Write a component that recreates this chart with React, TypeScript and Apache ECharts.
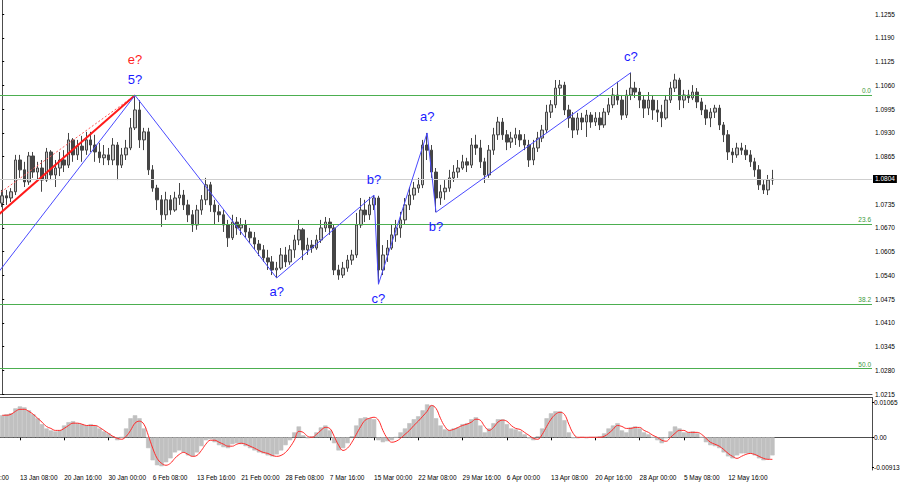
import React, { useEffect, useRef } from "react";
import * as echarts from "echarts";

// ---------- data ----------
const totalSlots = 197;
const xTickLabels = [
  "13 Jan 08:00", "20 Jan 16:00", "30 Jan 00:00", "6 Feb 08:00", "13 Feb 16:00",
  "21 Feb 00:00", "28 Feb 08:00", "7 Mar 16:00", "15 Mar 00:00", "22 Mar 08:00",
  "29 Mar 16:00", "6 Apr 00:00", "13 Apr 08:00", "20 Apr 16:00", "28 Apr 00:00",
  "5 May 08:00", "12 May 16:00",
];
const xTickIndex = [4, 14, 24, 34, 44, 54, 64, 74, 84, 94, 104, 114, 124, 134, 144, 154, 164];
const cutTickLabel = "6 Jan 00:00";

const priceTicks = [
  1.0215, 1.028, 1.0345, 1.041, 1.0475, 1.054, 1.0605, 1.067, 1.0735,
  1.0865, 1.093, 1.0995, 1.106, 1.1125, 1.119, 1.1255,
];
const macdTicks = [-0.00913, 0, 0.01065];
const fibLevels = ["0.0", "23.6", "38.2", "50.0"];
const fibPrices = [1.1033, 1.068, 1.0461, 1.0285];
const currentPrice = 1.0804;

// [open, close, low, high]
const ohlc: number[][] = [
  [1.0738,1.0758,1.0727,1.0774],[1.0758,1.0752,1.0733,1.0774],[1.0752,1.0769,1.0741,1.0779],
  [1.0769,1.0856,1.0760,1.0870],[1.0856,1.0829,1.0807,1.0870],[1.0829,1.0796,1.0782,1.0851],
  [1.0796,1.0867,1.0788,1.0878],[1.0867,1.0823,1.0807,1.0878],[1.0823,1.0834,1.0801,1.0851],
  [1.0834,1.0801,1.0769,1.0856],[1.0801,1.0878,1.0796,1.0889],[1.0878,1.0815,1.0801,1.0883],
  [1.0815,1.0834,1.0782,1.0856],[1.0834,1.0856,1.0812,1.0878],[1.0856,1.0842,1.0823,1.0883],
  [1.0842,1.0911,1.0834,1.0930],[1.0911,1.0870,1.0851,1.0916],[1.0870,1.0894,1.0856,1.0911],
  [1.0894,1.0883,1.0851,1.0922],[1.0883,1.0911,1.0870,1.0933],[1.0911,1.0897,1.0878,1.0933],
  [1.0897,1.0878,1.0851,1.0925],[1.0878,1.0862,1.0848,1.0903],[1.0862,1.0870,1.0842,1.0897],
  [1.0870,1.0856,1.0842,1.0889],[1.0856,1.0897,1.0842,1.0916],[1.0897,1.0842,1.0801,1.0905],
  [1.0842,1.0870,1.0834,1.0889],[1.0870,1.0889,1.0856,1.0911],[1.0889,1.0944,1.0883,1.0971],
  [1.0944,1.0993,1.0938,1.1033],[1.0993,1.0911,1.0889,1.1020],[1.0911,1.0933,1.0883,1.0944],
  [1.0933,1.0829,1.0815,1.0944],[1.0829,1.0779,1.0769,1.0842],[1.0779,1.0747,1.0719,1.0788],
  [1.0747,1.0706,1.0673,1.0760],[1.0706,1.0747,1.0692,1.0769],[1.0747,1.0719,1.0706,1.0760],
  [1.0719,1.0752,1.0714,1.0769],[1.0752,1.0760,1.0733,1.0793],[1.0760,1.0733,1.0719,1.0774],
  [1.0733,1.0706,1.0686,1.0747],[1.0706,1.0678,1.0659,1.0719],[1.0678,1.0719,1.0665,1.0733],
  [1.0719,1.0747,1.0706,1.0760],[1.0747,1.0788,1.0733,1.0807],[1.0788,1.0733,1.0714,1.0796],
  [1.0733,1.0714,1.0678,1.0747],[1.0714,1.0706,1.0686,1.0733],[1.0706,1.0678,1.0659,1.0719],
  [1.0678,1.0643,1.0618,1.0692],[1.0643,1.0686,1.0637,1.0706],[1.0686,1.0670,1.0651,1.0700],
  [1.0670,1.0678,1.0651,1.0697],[1.0678,1.0659,1.0643,1.0692],[1.0659,1.0643,1.0629,1.0670],
  [1.0643,1.0626,1.0610,1.0659],[1.0626,1.0610,1.0593,1.0637],[1.0610,1.0588,1.0577,1.0623],
  [1.0588,1.0577,1.0555,1.0610],[1.0577,1.0555,1.0541,1.0593],[1.0555,1.0560,1.0533,1.0577],
  [1.0560,1.0596,1.0555,1.0615],[1.0596,1.0577,1.0563,1.0618],[1.0577,1.0610,1.0569,1.0623],
  [1.0610,1.0637,1.0588,1.0651],[1.0637,1.0665,1.0623,1.0692],[1.0665,1.0610,1.0582,1.0670],
  [1.0610,1.0623,1.0596,1.0643],[1.0623,1.0615,1.0602,1.0637],[1.0615,1.0637,1.0610,1.0651],
  [1.0637,1.0670,1.0629,1.0692],[1.0670,1.0686,1.0659,1.0700],[1.0686,1.0670,1.0651,1.0697],
  [1.0670,1.0555,1.0541,1.0678],[1.0555,1.0541,1.0528,1.0569],[1.0541,1.0560,1.0533,1.0577],
  [1.0560,1.0582,1.0550,1.0596],[1.0582,1.0596,1.0569,1.0610],[1.0596,1.0678,1.0588,1.0711],
  [1.0678,1.0719,1.0670,1.0752],[1.0719,1.0706,1.0686,1.0747],[1.0706,1.0733,1.0692,1.0755],
  [1.0733,1.0752,1.0719,1.0760],[1.0752,1.0555,1.0516,1.0758],[1.0555,1.0596,1.0541,1.0623],
  [1.0596,1.0615,1.0577,1.0637],[1.0615,1.0651,1.0610,1.0678],[1.0651,1.0670,1.0632,1.0692],
  [1.0670,1.0692,1.0643,1.0714],[1.0692,1.0733,1.0678,1.0752],[1.0733,1.0760,1.0719,1.0782],
  [1.0760,1.0779,1.0747,1.0796],[1.0779,1.0788,1.0766,1.0807],[1.0788,1.0897,1.0779,1.0911],
  [1.0897,1.0883,1.0856,1.0930],[1.0883,1.0823,1.0807,1.0897],[1.0823,1.0752,1.0713,1.0834],
  [1.0752,1.0769,1.0733,1.0788],[1.0769,1.0779,1.0747,1.0801],[1.0779,1.0807,1.0769,1.0829],
  [1.0807,1.0823,1.0796,1.0842],[1.0823,1.0834,1.0807,1.0856],[1.0834,1.0851,1.0829,1.0870],
  [1.0851,1.0842,1.0823,1.0862],[1.0842,1.0897,1.0834,1.0916],[1.0897,1.0889,1.0870,1.0925],
  [1.0889,1.0851,1.0834,1.0911],[1.0851,1.0815,1.0793,1.0862],[1.0815,1.0883,1.0807,1.0897],
  [1.0883,1.0925,1.0870,1.0944],[1.0925,1.0960,1.0911,1.0974],[1.0960,1.0925,1.0911,1.0971],
  [1.0925,1.0905,1.0883,1.0938],[1.0905,1.0916,1.0889,1.0933],[1.0916,1.0925,1.0897,1.0944],
  [1.0925,1.0911,1.0892,1.0938],[1.0911,1.0897,1.0883,1.0927],[1.0897,1.0856,1.0837,1.0911],
  [1.0856,1.0889,1.0842,1.0911],[1.0889,1.0916,1.0878,1.0933],[1.0916,1.0938,1.0905,1.0952],
  [1.0938,1.0987,1.0930,1.1007],[1.0987,1.1007,1.0971,1.1020],[1.1007,1.1053,1.0998,1.1075],
  [1.1053,1.1061,1.1034,1.1075],[1.1061,1.0993,1.0979,1.1070],[1.0993,1.0971,1.0944,1.1007],
  [1.0971,1.0938,1.0916,1.0987],[1.0938,1.0971,1.0925,1.0985],[1.0971,1.0960,1.0938,1.0985],
  [1.0960,1.0979,1.0919,1.0993],[1.0979,1.0960,1.0944,1.0987],[1.0960,1.0971,1.0949,1.0987],
  [1.0971,1.0952,1.0938,1.0987],[1.0952,1.0987,1.0944,1.0998],[1.0987,1.1007,1.0979,1.1026],
  [1.1007,1.1034,1.0998,1.1053],[1.1034,1.1020,1.1007,1.1070],[1.1020,1.0979,1.0966,1.1034],
  [1.0979,1.1034,1.0971,1.1048],[1.1034,1.1053,1.1020,1.1095],[1.1053,1.1042,1.1026,1.1070],
  [1.1042,1.1020,1.0998,1.1053],[1.1020,1.0998,1.0971,1.1034],[1.0998,1.1020,1.0979,1.1042],
  [1.1020,1.0993,1.0966,1.1034],[1.0993,1.0987,1.0960,1.1020],[1.0987,1.0971,1.0946,1.1007],
  [1.0971,1.1020,1.0966,1.1034],[1.1020,1.1053,1.1012,1.1070],[1.1053,1.1075,1.1042,1.1092],
  [1.1075,1.1020,1.0993,1.1081],[1.1020,1.1034,1.0998,1.1048],[1.1034,1.1026,1.1012,1.1048],
  [1.1026,1.1042,1.1020,1.1061],[1.1042,1.1015,1.0998,1.1053],[1.1015,1.0993,1.0979,1.1026],
  [1.0993,1.0971,1.0952,1.1007],[1.0971,1.0987,1.0946,1.0998],[1.0987,1.0998,1.0971,1.1007],
  [1.0998,1.0952,1.0938,1.1007],[1.0952,1.0925,1.0905,1.0960],[1.0925,1.0878,1.0856,1.0938],
  [1.0878,1.0870,1.0848,1.0889],[1.0870,1.0889,1.0862,1.0903],[1.0889,1.0883,1.0870,1.0903],
  [1.0883,1.0870,1.0856,1.0897],[1.0870,1.0851,1.0837,1.0883],[1.0851,1.0829,1.0810,1.0862],
  [1.0829,1.0788,1.0774,1.0842],[1.0788,1.0774,1.0763,1.0801],[1.0774,1.0801,1.0760,1.0815],
  [1.0801,1.0804,1.0788,1.0829],
];

const macdHist = [
  0.0067,0.0070,0.0073,0.0088,0.0094,0.0091,0.0082,0.0070,0.0058,0.0040,
  0.0027,0.0021,0.0018,0.0021,0.0036,0.0046,0.0049,0.0043,0.0040,0.0036,
  0.0040,0.0036,0.0027,0.0018,0.0012,0.0003,-0.0009,0.0000,0.0027,0.0058,
  0.0067,0.0058,0.0027,-0.0033,-0.0070,-0.0085,-0.0088,-0.0076,-0.0064,-0.0046,
  -0.0040,-0.0046,-0.0055,-0.0058,-0.0046,-0.0027,-0.0009,-0.0006,-0.0015,-0.0024,
  -0.0030,-0.0033,-0.0021,-0.0018,-0.0021,-0.0027,-0.0033,-0.0040,-0.0046,-0.0049,
  -0.0055,-0.0058,-0.0052,-0.0040,-0.0024,-0.0009,0.0015,0.0033,0.0006,-0.0003,
  0.0003,0.0015,0.0030,0.0036,0.0021,-0.0018,-0.0040,-0.0033,-0.0018,0.0003,
  0.0036,0.0058,0.0061,0.0058,0.0055,-0.0009,-0.0015,-0.0012,-0.0009,0.0000,
  0.0015,0.0027,0.0043,0.0055,0.0064,0.0082,0.0100,0.0097,0.0058,0.0036,
  0.0024,0.0021,0.0027,0.0030,0.0040,0.0043,0.0055,0.0061,0.0036,0.0015,
  0.0027,0.0043,0.0055,0.0055,0.0040,0.0027,0.0024,0.0018,0.0009,-0.0003,
  -0.0009,0.0003,0.0027,0.0058,0.0073,0.0079,0.0079,0.0052,0.0015,-0.0003,
  -0.0003,0.0000,-0.0003,0.0000,0.0000,0.0003,0.0012,0.0027,0.0036,0.0043,
  0.0021,0.0015,0.0030,0.0033,0.0027,0.0015,0.0009,0.0000,-0.0009,-0.0018,
  -0.0003,0.0018,0.0033,0.0027,0.0015,0.0015,0.0018,0.0012,0.0000,-0.0015,
  -0.0024,-0.0027,-0.0033,-0.0046,-0.0058,-0.0064,-0.0055,-0.0049,-0.0049,-0.0049,
  -0.0055,-0.0064,-0.0070,-0.0067,-0.0055,
];

const macdSignal = [
  0.0067,0.0067,0.0070,0.0079,0.0085,0.0085,0.0079,0.0070,0.0058,0.0046,
  0.0033,0.0027,0.0021,0.0021,0.0027,0.0036,0.0043,0.0043,0.0040,0.0036,
  0.0036,0.0036,0.0030,0.0021,0.0012,0.0003,-0.0003,-0.0006,0.0003,0.0021,
  0.0043,0.0049,0.0040,0.0006,-0.0033,-0.0064,-0.0079,-0.0085,-0.0079,-0.0064,
  -0.0052,-0.0046,-0.0052,-0.0058,-0.0055,-0.0040,-0.0021,-0.0009,-0.0009,-0.0015,
  -0.0021,-0.0027,-0.0027,-0.0021,-0.0018,-0.0021,-0.0027,-0.0033,-0.0040,-0.0046,
  -0.0049,-0.0055,-0.0058,-0.0055,-0.0046,-0.0030,-0.0009,0.0018,0.0015,0.0003,
  0.0000,0.0009,0.0021,0.0030,0.0027,0.0003,-0.0024,-0.0040,-0.0033,-0.0015,
  0.0009,0.0033,0.0052,0.0058,0.0061,0.0052,0.0021,-0.0003,-0.0015,-0.0012,
  -0.0003,0.0009,0.0021,0.0036,0.0049,0.0064,0.0079,0.0097,0.0088,0.0058,
  0.0033,0.0021,0.0024,0.0030,0.0036,0.0040,0.0046,0.0055,0.0052,0.0033,
  0.0021,0.0030,0.0046,0.0052,0.0049,0.0036,0.0027,0.0024,0.0015,0.0006,
  -0.0003,-0.0006,0.0009,0.0033,0.0055,0.0070,0.0076,0.0070,0.0040,0.0012,
  0.0000,0.0000,0.0000,0.0000,0.0000,0.0000,0.0003,0.0012,0.0024,0.0036,
  0.0033,0.0027,0.0027,0.0030,0.0030,0.0021,0.0015,0.0006,0.0000,-0.0009,
  -0.0012,0.0000,0.0012,0.0021,0.0021,0.0015,0.0015,0.0015,0.0009,-0.0003,
  -0.0015,-0.0021,-0.0027,-0.0037,-0.0049,-0.0058,-0.0064,-0.0058,-0.0052,-0.0049,
  -0.0052,-0.0058,-0.0064,-0.0067,-0.0067,
];

// wave count polyline (bar index, price) and its labels
const waveIndex = [-4.65, 30, 62, 84, 85, 96, 98, 142];
const wavePrice = [1.0489, 1.1033, 1.0533, 1.076, 1.0516, 1.093, 1.0713, 1.1095];
const waveLabels = ["", "5?", "a?", "b?", "c?", "a?", "b?", "c?"];
const upperWaveLabel = "e?";
const redTrendIndex = [-4.65, 30];
const redTrendPrice = [1.0666, 1.1033];
const redDashPrice = [1.073, 1.1033];

// ---------- styles ----------
const FONT = "'Liberation Sans', Arial, sans-serif";
const AXIS_FS = 6.5;
const AXIS_COLOR = "#4d4d4d";
const GREEN = "#4caf50";
const BLUE = "#1a1aff";
const RED = "#ff2a2a";

function buildOption() {
  const categories: string[] = [];
  for (let i = 0; i < totalSlots; i++) {
    const k = xTickIndex.indexOf(i);
    categories.push(k >= 0 ? xTickLabels[k] : "");
  }
  const showLabel = (_: number, v: string) => v !== "";

  const wavePts = waveIndex.map((x, i) => [x, wavePrice[i]]);
  const labelPts: any[] = [];
  waveLabels.forEach((t, i) => {
    if (!t) return;
    const prev = wavePrice[i - 1];
    const isPeak = wavePrice[i] > prev;
    labelPts.push({
      value: [waveIndex[i], wavePrice[i]],
      label: {
        show: true,
        formatter: t,
        position: isPeak ? "top" : "bottom",
        distance: isPeak ? 9 : 7,
        color: BLUE,
      },
    });
  });
  const topIdx = wavePrice.indexOf(Math.max(...wavePrice.slice(0, 3)));
  labelPts.push({
    value: [waveIndex[topIdx], wavePrice[topIdx]],
    label: { show: true, formatter: upperWaveLabel, position: "top", distance: 29, color: "#ff1f1f" },
  });

  const fibMarks = fibLevels.map((lv, i) => ({
    yAxis: fibPrices[i],
    lineStyle: { color: GREEN, width: 1, type: "solid" },
    label: {
      show: true,
      formatter: lv,
      position: "insideEndTop",
      color: "#3c9a3c",
      fontSize: AXIS_FS,
      fontFamily: FONT,
      distance: [1, 1],
    },
  }));

  return {
    animation: false,
    backgroundColor: "#ffffff",
    textStyle: { fontFamily: FONT },
    grid: [
      { left: 0, right: 28, top: 0, height: 394.5, outerBoundsMode: "none" },
      { left: 0, right: 28, top: 397.5, height: 72.5, outerBoundsMode: "none" },
    ],
    xAxis: [
      {
        type: "category", gridIndex: 0, data: categories, boundaryGap: true,
        axisLine: { show: true, lineStyle: { color: AXIS_COLOR, width: 1 } },
        axisTick: { show: false }, axisLabel: { show: false }, splitLine: { show: false },
      },
      { type: "value", gridIndex: 0, min: -0.5, max: totalSlots - 0.5, show: false },
      {
        type: "category", gridIndex: 1, data: categories, boundaryGap: true,
        axisLine: { show: true, lineStyle: { color: AXIS_COLOR, width: 1 } },
        axisTick: { show: true, interval: showLabel, alignWithLabel: true, length: 3, lineStyle: { color: "#000" } },
        axisLabel: {
          show: true, interval: showLabel, align: "left", fontSize: AXIS_FS, color: "#000",
          margin: 4, fontFamily: FONT,
        },
        splitLine: { show: false },
      },
      {
        type: "category", gridIndex: 1, position: "top", data: categories,
        axisLine: { show: true, lineStyle: { color: AXIS_COLOR, width: 1 } },
        axisTick: { show: false }, axisLabel: { show: false },
      },
    ],
    yAxis: [
      {
        type: "value", gridIndex: 0, position: "right", min: 1.0214, max: 1.1294, scale: true,
        axisLine: { show: true, lineStyle: { color: AXIS_COLOR, width: 1 } },
        axisTick: { show: true, length: 2, customValues: priceTicks, lineStyle: { color: "#000" } },
        axisLabel: {
          show: true, customValues: priceTicks, fontSize: AXIS_FS, color: "#000", margin: 3,
          fontFamily: FONT, formatter: (v: number) => v.toFixed(4),
        },
        splitLine: { show: false },
      },
      {
        type: "value", gridIndex: 1, position: "right", min: -0.00994, max: 0.0121,
        axisLine: { show: true, lineStyle: { color: AXIS_COLOR, width: 1 } },
        axisTick: { show: true, length: 2, customValues: macdTicks, lineStyle: { color: "#000" } },
        axisLabel: {
          show: true, customValues: macdTicks, fontSize: AXIS_FS, color: "#000", margin: 2,
          fontFamily: FONT, formatter: (v: number) => (v === 0 ? "0.00" : v.toFixed(5)),
        },
        splitLine: { show: false },
      },
    ],
    series: [
      {
        type: "candlestick", xAxisIndex: 0, yAxisIndex: 0, data: ohlc, barWidth: 3,
        itemStyle: {
          color: "#c4c4c4", color0: "#454545", borderColor: "#454545", borderColor0: "#454545", borderWidth: 1,
        },
        markLine: {
          silent: true, symbol: ["none", "none"], animation: false, precision: 4,
          data: [
            ...fibMarks,
            {
              yAxis: currentPrice,
              lineStyle: { color: "#cfcfcf", width: 1, type: "solid" },
              label: {
                show: true, position: "end", formatter: currentPrice.toFixed(4), distance: 1,
                backgroundColor: "#000", color: "#fff", fontSize: AXIS_FS, padding: [1, 2, 0, 2], fontFamily: FONT,
              },
            },
          ],
        },
        z: 3,
      },
      {
        type: "line", xAxisIndex: 1, yAxisIndex: 0,
        data: redTrendIndex.map((x, i) => [x, redDashPrice[i]]),
        symbol: "none", lineStyle: { color: "#ff5a5a", width: 1, type: [2, 2] }, z: 4,
      },
      {
        type: "line", xAxisIndex: 1, yAxisIndex: 0,
        data: redTrendIndex.map((x, i) => [x, redTrendPrice[i]]),
        symbol: "none", lineStyle: { color: "#ff1a1a", width: 2 }, z: 4,
      },
      {
        type: "line", xAxisIndex: 1, yAxisIndex: 0, data: wavePts,
        symbol: "none", lineStyle: { color: "#4a4aff", width: 1 }, z: 5,
      },
      {
        type: "scatter", xAxisIndex: 1, yAxisIndex: 0, data: labelPts,
        symbolSize: 1, itemStyle: { color: "rgba(0,0,0,0)", opacity: 1 },
        label: { show: true, fontSize: 13, fontFamily: FONT, opacity: 1 },
        z: 6,
      },
      {
        type: "bar", xAxisIndex: 2, yAxisIndex: 1, data: macdHist,
        barCategoryGap: "0%", itemStyle: { color: "#c0c0c0", borderColor: "#c0c0c0", borderWidth: 0.6 },
      },
      {
        type: "line", xAxisIndex: 2, yAxisIndex: 1, data: macdSignal, smooth: 0.4,
        symbol: "none", lineStyle: { color: RED, width: 1 },
      },
    ],
    graphic: [
      {
        type: "text", x: -25, y: 474,
        style: { text: cutTickLabel, fontSize: AXIS_FS, fill: "#000", fontFamily: FONT },
      },
    ],
  };
}

export default function App() {
  const ref = useRef<HTMLDivElement>(null);
  useEffect(() => {
    if (!ref.current) return;
    const chart = echarts.init(ref.current, undefined, { renderer: "svg" });
    chart.setOption(buildOption() as any);
    return () => chart.dispose();
  }, []);
  return (
    <div
      ref={ref}
      style={{ position: "fixed", left: 0, top: 0, width: 900, height: 485, background: "#fff" }}
    />
  );
}
